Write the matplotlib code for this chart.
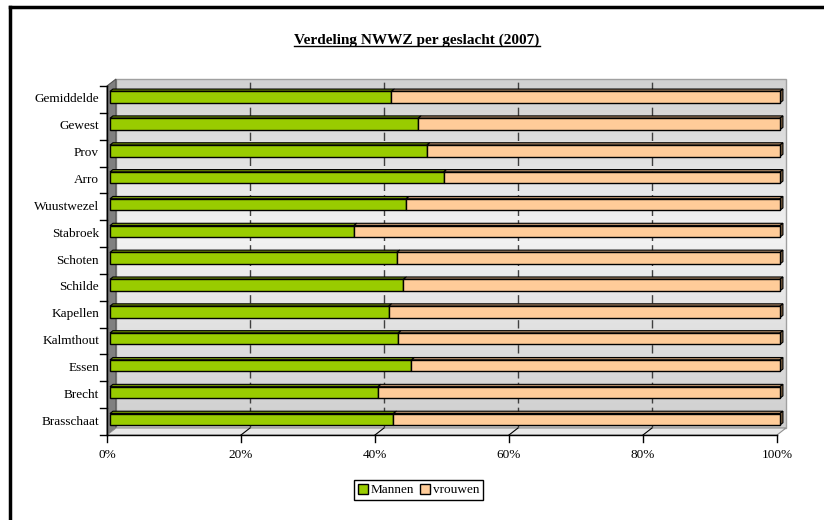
import numpy as np
import matplotlib
matplotlib.use('Agg')
import matplotlib.pyplot as plt
from matplotlib.patches import Polygon, Patch
from matplotlib.lines import Line2D

categories = ['Gemiddelde', 'Gewest', 'Prov', 'Arro', 'Wuustwezel', 'Stabroek',
              'Schoten', 'Schilde', 'Kapellen', 'Kalmthout', 'Essen', 'Brecht',
              'Brasschaat']
mannen = [42.0, 46.0, 47.3, 49.8, 44.2, 36.4, 42.8, 43.8, 41.6, 43.0, 45.0, 40.0, 42.3]
vrouwen = [58.0, 54.0, 52.7, 50.2, 55.8, 63.6, 57.2, 56.2, 58.4, 57.0, 55.0, 60.0, 57.7]
series_names = ['Mannen', 'vrouwen']
x_ticks = [0, 20, 40, 60, 80, 100]
x_tick_labels = ['0%', '20%', '40%', '60%', '80%', '100%']
title = 'Verdeling NWWZ per geslacht (2007)'

plt.rcParams['font.family'] = ['Liberation Serif', 'DejaVu Serif']

green, green_top = '#99cc00', '#6b8c00'
peach, peach_top, peach_side = '#ffcc99', '#b08a66', '#7d6040'

W, H = 824, 520
fig = plt.figure(figsize=(W / 100, H / 100), dpi=100)
# front plane of the 3d box: 107..777 px wide, 86..435 px tall
ax = fig.add_axes([107 / W, 85 / H, 670 / W, 349 / H])
n = len(categories)
ax.axis('off')

px_x = 670 / 100.0          # pixels per percent
px_y = 349 / float(n)       # pixels per category
dx, dy = 9 / px_x, 7 / px_y  # depth of the box

# back wall with vertical gradient
t = np.linspace(0, 1, 200)
g = np.interp(t, [0, 0.45, 1], [0.82, 0.95, 0.81])
grad = np.repeat(g[:, None], 3, axis=1)[:, None, :]
im = ax.imshow(grad, extent=[dx, 100 + dx, -0.5 + dy, n - 0.5 + dy], aspect='auto',
               zorder=0, interpolation='bilinear')
im.set_clip_on(False)
ax.add_patch(Polygon([(dx, -0.5 + dy), (dx, n - 0.5 + dy), (100 + dx, n - 0.5 + dy),
                      (100 + dx, -0.5 + dy)], closed=True, fill=False,
                     edgecolor='#a0a0a0', lw=1, zorder=1, clip_on=False))
ax.set_xlim(0, 100)
ax.set_ylim(-0.5, n - 0.5)

for x in x_ticks[1:-1]:
    ax.plot([x + dx, x + dx], [-0.5 + dy, n - 0.5 + dy], color='#404040', lw=1,
            dashes=(6, 3), zorder=1, clip_on=False)

# side wall and floor
ax.add_patch(Polygon([(0, -0.5), (0, n - 0.5), (dx, n - 0.5 + dy), (dx, -0.5 + dy)],
                     closed=True, facecolor='#808080', edgecolor='#505050', lw=0.8,
                     zorder=2, clip_on=False))
ax.add_patch(Polygon([(0, -0.5), (100, -0.5), (100 + dx, -0.5 + dy), (dx, -0.5 + dy)],
                     closed=True, facecolor='#e8e8e8', edgecolor='#909090', lw=0.8,
                     zorder=2, clip_on=False))
for x in x_ticks[1:-1]:
    ax.plot([x, x + dx], [-0.5, -0.5 + dy], color='black', lw=0.8, zorder=3, clip_on=False)

# bars
fx, fy = 0.33 * dx, 0.33 * dy
bx, by = 0.66 * dx, 0.66 * dy
bh = 11.5 / px_y
for i, (m, v) in enumerate(zip(mannen, vrouwen)):
    tot = m + v
    m, v = 100 * m / tot, 100 * v / tot
    y = n - 1 - i + fy
    ax.barh(y, m, left=fx, height=bh, color=green, edgecolor='black', lw=1, zorder=5,
            clip_on=False)
    ax.barh(y, v, left=fx + m, height=bh, color=peach, edgecolor='black', lw=1, zorder=5,
            clip_on=False)
    yt = y + bh / 2
    for x0, x1, c in [(0, m, green_top), (m, 100, peach_top)]:
        ax.add_patch(Polygon([(x0 + fx, yt), (x1 + fx, yt), (x1 + bx, yt + by - fy),
                              (x0 + bx, yt + by - fy)], closed=True, facecolor=c,
                             edgecolor='black', lw=0.8, zorder=4, clip_on=False))
    ax.add_patch(Polygon([(100 + fx, y - bh / 2), (100 + fx, yt), (100 + bx, yt + by - fy),
                          (100 + bx, y - bh / 2 + by - fy)], closed=True,
                         facecolor=peach_side, edgecolor='black', lw=0.8, zorder=4,
                         clip_on=False))

# axes lines and ticks
ax.plot([0, 0], [-0.5, n - 0.5], color='black', lw=1, zorder=6, clip_on=False)
ax.plot([0, 100], [-0.5, -0.5], color='black', lw=1, zorder=6, clip_on=False)
for k in range(n + 1):
    ax.plot([-7 / px_x, 0], [k - 0.5, k - 0.5], color='black', lw=1, clip_on=False)
for x, lab in zip(x_ticks, x_tick_labels):
    ax.plot([x, x], [-0.5, -0.5 - 7 / px_y], color='black', lw=1, clip_on=False)
    ax.text(x, -0.5 - 20 / px_y, lab, ha='center', va='center', fontsize=9.5)
for i, name in enumerate(categories):
    ax.text(-8 / px_x, n - 1 - i, name, ha='right', va='center', fontsize=9.5)

# legend
handles = [Patch(facecolor=green, edgecolor='black'), Patch(facecolor=peach, edgecolor='black')]
leg = fig.legend(handles, series_names, loc='center', bbox_to_anchor=(418.5 / W, 1 - 490 / H),
                 ncol=2, fancybox=False, edgecolor='black', framealpha=1, fontsize=9.5,
                 handlelength=0.8, handleheight=0.8, handletextpad=0.2,
                 columnspacing=0.4, borderpad=0.25, borderaxespad=0)
leg.get_frame().set_linewidth(1)

# title, underlined
tt = fig.text(417 / W, 1 - 44 / H, title, ha='center', va='baseline', fontsize=11,
              fontweight='bold')
fig.canvas.draw()
bb = tt.get_window_extent().transformed(fig.transFigure.inverted())
fig.add_artist(Line2D([bb.x0, bb.x1], [1 - 46 / H] * 2, transform=fig.transFigure,
                      color='black', lw=1))

# page frame
fig.add_artist(Line2D([10 / W, 10 / W], [0, 1 - 7 / H], transform=fig.transFigure,
                      color='black', lw=2.5))
fig.add_artist(Line2D([10 / W, 1], [1 - 7 / H, 1 - 7 / H], transform=fig.transFigure,
                      color='black', lw=2.5))

fig.savefig('out.png', dpi=100)
